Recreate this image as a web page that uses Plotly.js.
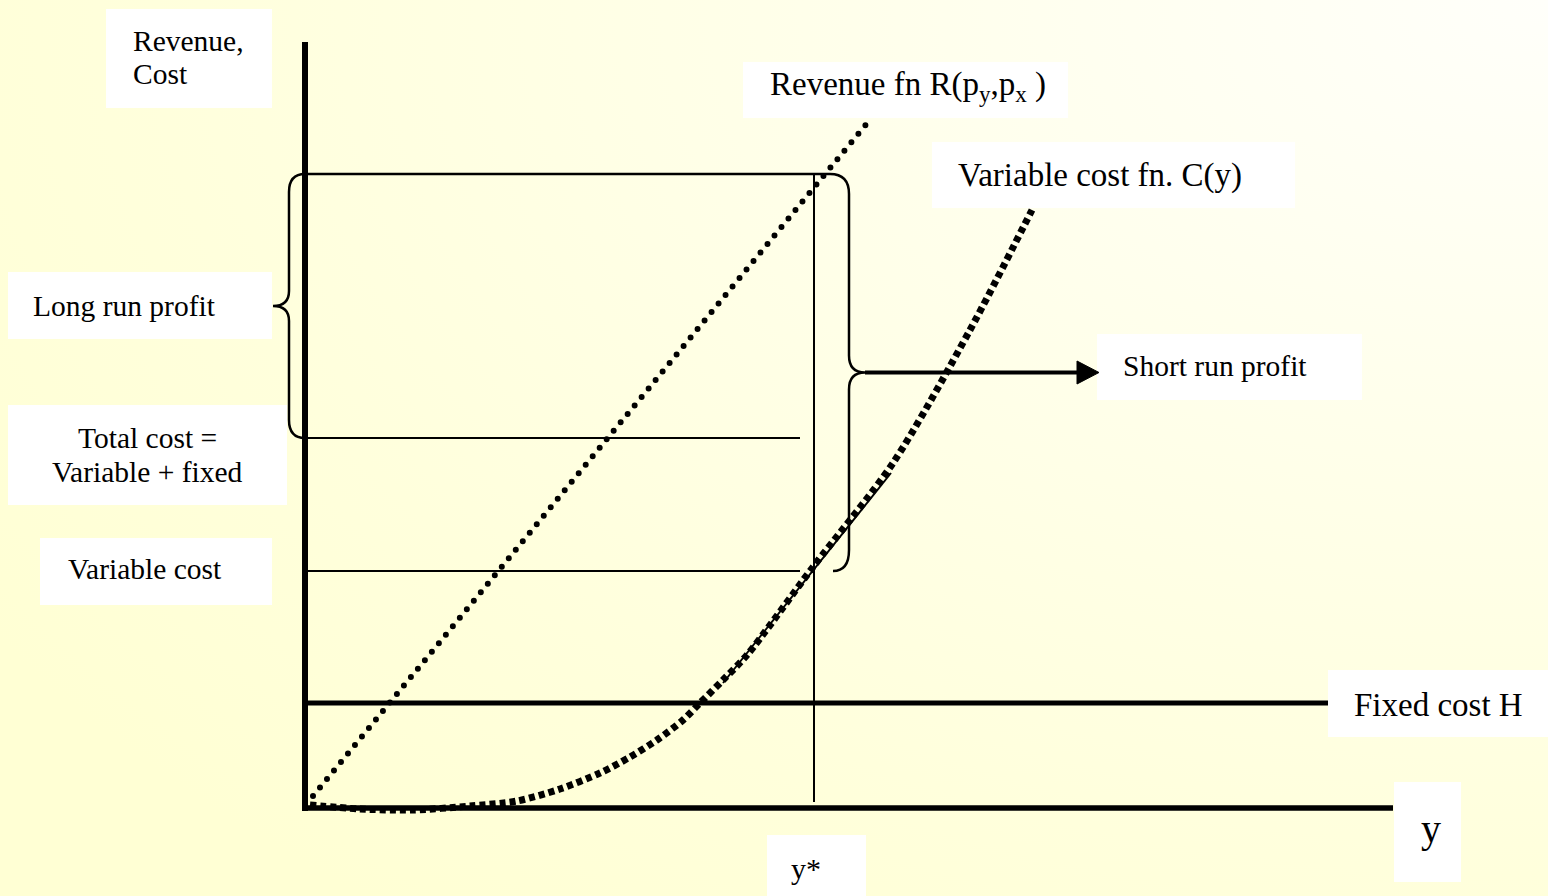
<!DOCTYPE html>
<html>
<head>
<meta charset="utf-8">
<script src="https://cdn.plot.ly/plotly-3.0.1.min.js"></script>
<style>
  html, body { margin: 0; padding: 0; width: 1548px; height: 896px; overflow: hidden; }
  body { background: radial-gradient(ellipse 120% 130% at 100% 0%, #fffffa 0%, #ffffe8 45%, #ffffdc 75%, #ffffd4 100%); }
  #chart { width: 1548px; height: 896px; }
  .scatterlayer .trace.revenue .js-line { stroke-linecap: round; }
</style>
</head>
<body>
<div id="chart"></div>
<script>
// ---------------- data (quantity y on the horizontal axis, revenue / cost on the vertical) ----------------
const revenueQuantity = [0.08, 5.63];
const revenueValues   = [0.12, 6.86];

const costQuantity = [0.05, 0.55, 1.08, 1.65, 2.12, 2.55, 2.95, 3.25, 3.52, 3.78, 3.95, 4.18, 4.42, 5.08, 5.88, 6.65, 7.27];
const variableCost = [0.03, -0.01, -0.02, 0.02, 0.07, 0.19, 0.35, 0.51, 0.68, 0.88, 1.05, 1.28, 1.53, 2.41, 3.45, 4.78, 5.98];

const tangentQuantity = [4.18, 5.86];
const tangentCost     = [1.25, 3.35];

const yStar               = 5.09;
const fixedCostH          = 1.05;
const variableCostAtYStar = 2.37;
const totalCostAtYStar    = 3.70;
const revenueAtYStar      = 6.34;

const quantityAxisMax = 10.88;
const valueAxisMax    = 7.66;
const fixedLineEnd    = 10.23;
const levelLineEnd    = 4.95;

const labelTexts = {
  axisY1: "Revenue,",
  axisY2: "Cost",
  revenueFn: "Revenue fn R(p<sub>y</sub>,p<sub>x</sub>&nbsp;)",
  costFn: "Variable cost fn. C(y)",
  longRun: "Long run profit",
  totalCost1: "Total cost =",
  totalCost2: "Variable + fixed",
  varCost: "Variable cost",
  shortRun: "Short run profit",
  fixed: "Fixed cost H",
  axisX: "y",
  yStar: "y*"
};

// ---------------- layout helpers (page geometry) ----------------
const W = 1548, H = 896;
const FONT = "Liberation Serif, Times New Roman, serif";
const px = v => v / W;
const py = v => 1 - v / H;

function line(x, y, width, dash, name) {
  return { type: "scatter", mode: "lines", x: x, y: y, name: name || "",
           hoverinfo: "skip", showlegend: false,
           line: { color: "#000", width: width, dash: dash || "solid" } };
}

const costTrace = line(costQuantity, variableCost, 7, "6px,4px", "cost");
costTrace.line.shape = "spline";
costTrace.line.smoothing = 0.8;

const traces = [
  line([0, levelLineEnd], [totalCostAtYStar, totalCostAtYStar], 2),
  line([0, levelLineEnd], [variableCostAtYStar, variableCostAtYStar], 2),
  line([yStar, yStar], [revenueAtYStar, 0.06], 2),
  line([0, fixedLineEnd], [fixedCostH, fixedCostH], 5),
  line([0, quantityAxisMax], [0, 0], 5.5),
  line([0, 0], [-0.03, valueAxisMax], 6),
  line(tangentQuantity, tangentCost, 2),
  costTrace,
  line(revenueQuantity, revenueValues, 6, "0px,11px", "revenue")
];

// braces built from the data levels
const midL = (revenueAtYStar + totalCostAtYStar) / 2;
const braceLeft =
  `M 0,${revenueAtYStar} Q -0.16,${revenueAtYStar} -0.16,${revenueAtYStar - 0.18} ` +
  `L -0.16,${midL + 0.15} Q -0.16,${midL} -0.32,${midL} Q -0.16,${midL} -0.16,${midL - 0.15} ` +
  `L -0.16,${totalCostAtYStar + 0.18} Q -0.16,${totalCostAtYStar} 0,${totalCostAtYStar}`;

const bx = yStar + 0.35;
const midR = (revenueAtYStar + variableCostAtYStar) / 2;
const braceRight =
  `M 0,${revenueAtYStar} L ${bx - 0.19},${revenueAtYStar} Q ${bx},${revenueAtYStar} ${bx},${revenueAtYStar - 0.2} ` +
  `L ${bx},${midR + 0.17} Q ${bx},${midR} ${bx + 0.16},${midR} Q ${bx},${midR} ${bx},${midR - 0.17} ` +
  `L ${bx},${variableCostAtYStar + 0.21} Q ${bx},${variableCostAtYStar} ${bx - 0.16},${variableCostAtYStar}`;

const arrowStart = bx + 0.16, arrowBase = 7.72, arrowTip = 7.94;

const boxes = [
  [106, 9, 272, 108], [743, 62, 1068, 118], [932, 142, 1295, 208], [8, 272, 272, 339],
  [8, 405, 287, 505], [40, 538, 272, 605], [1097, 334, 1362, 400], [1328, 670, 1548, 737],
  [1394, 782, 1461, 882], [767, 835, 866, 896]
];

const shapes = boxes.map(b => ({
  type: "rect", xref: "paper", yref: "paper", layer: "below",
  x0: px(b[0]), x1: px(b[2]), y0: py(b[3]), y1: py(b[1]),
  fillcolor: "#ffffff", line: { width: 0 }
}));
shapes.push({ type: "path", xref: "x", yref: "y", path: braceLeft, line: { color: "#000", width: 2.5 } });
shapes.push({ type: "path", xref: "x", yref: "y", path: braceRight, line: { color: "#000", width: 2.5 } });
shapes.push({ type: "line", xref: "x", yref: "y", x0: arrowStart, x1: arrowBase + 0.02, y0: midR, y1: midR, line: { color: "#000", width: 4 } });
shapes.push({ type: "path", xref: "x", yref: "y", path: `M ${arrowTip},${midR} L ${arrowBase},${midR + 0.115} L ${arrowBase},${midR - 0.115} Z`, fillcolor: "#000", line: { color: "#000", width: 1 } });

function label(text, x, y, size, anchor) {
  return { text: text, xref: "paper", yref: "paper", x: px(x), y: py(y),
           xanchor: anchor || "left", yanchor: "middle", align: anchor === "center" ? "center" : "left",
           showarrow: false, font: { family: FONT, size: size, color: "#000" } };
}

const annotations = [
  label(labelTexts.axisY1, 131, 41, 29.5),
  label(labelTexts.axisY2, 131, 74, 29.5),
  label(labelTexts.revenueFn, 768, 86, 33),
  label(labelTexts.costFn, 956, 176, 33),
  label(labelTexts.longRun, 31, 305.5, 29.5),
  label(labelTexts.totalCost1, 147, 438, 29.5, "center"),
  label(labelTexts.totalCost2, 147, 472, 29.5, "center"),
  label(labelTexts.varCost, 145, 569, 29.5, "center"),
  label(labelTexts.shortRun, 1121, 366, 29.5),
  label(labelTexts.fixed, 1352, 704.5, 33),
  label(labelTexts.axisX, 1431, 828, 40, "center"),
  label(labelTexts.yStar, 806, 868, 30, "center")
];

const layout = {
  width: W, height: H,
  margin: { l: 0, r: 0, t: 0, b: 0, pad: 0 },
  paper_bgcolor: "rgba(0,0,0,0)", plot_bgcolor: "rgba(0,0,0,0)",
  showlegend: false,
  xaxis: { range: [-3.05, 12.43], visible: false, fixedrange: true },
  yaxis: { range: [-0.88, 8.08], visible: false, fixedrange: true },
  shapes: shapes,
  annotations: annotations
};

Plotly.newPlot("chart", traces, layout, { staticPlot: true, displayModeBar: false }).then(() => {
  const tr = document.querySelectorAll(".scatterlayer .trace");
  if (tr.length) tr[tr.length - 1].classList.add("revenue");
});
</script>
</body>
</html>
